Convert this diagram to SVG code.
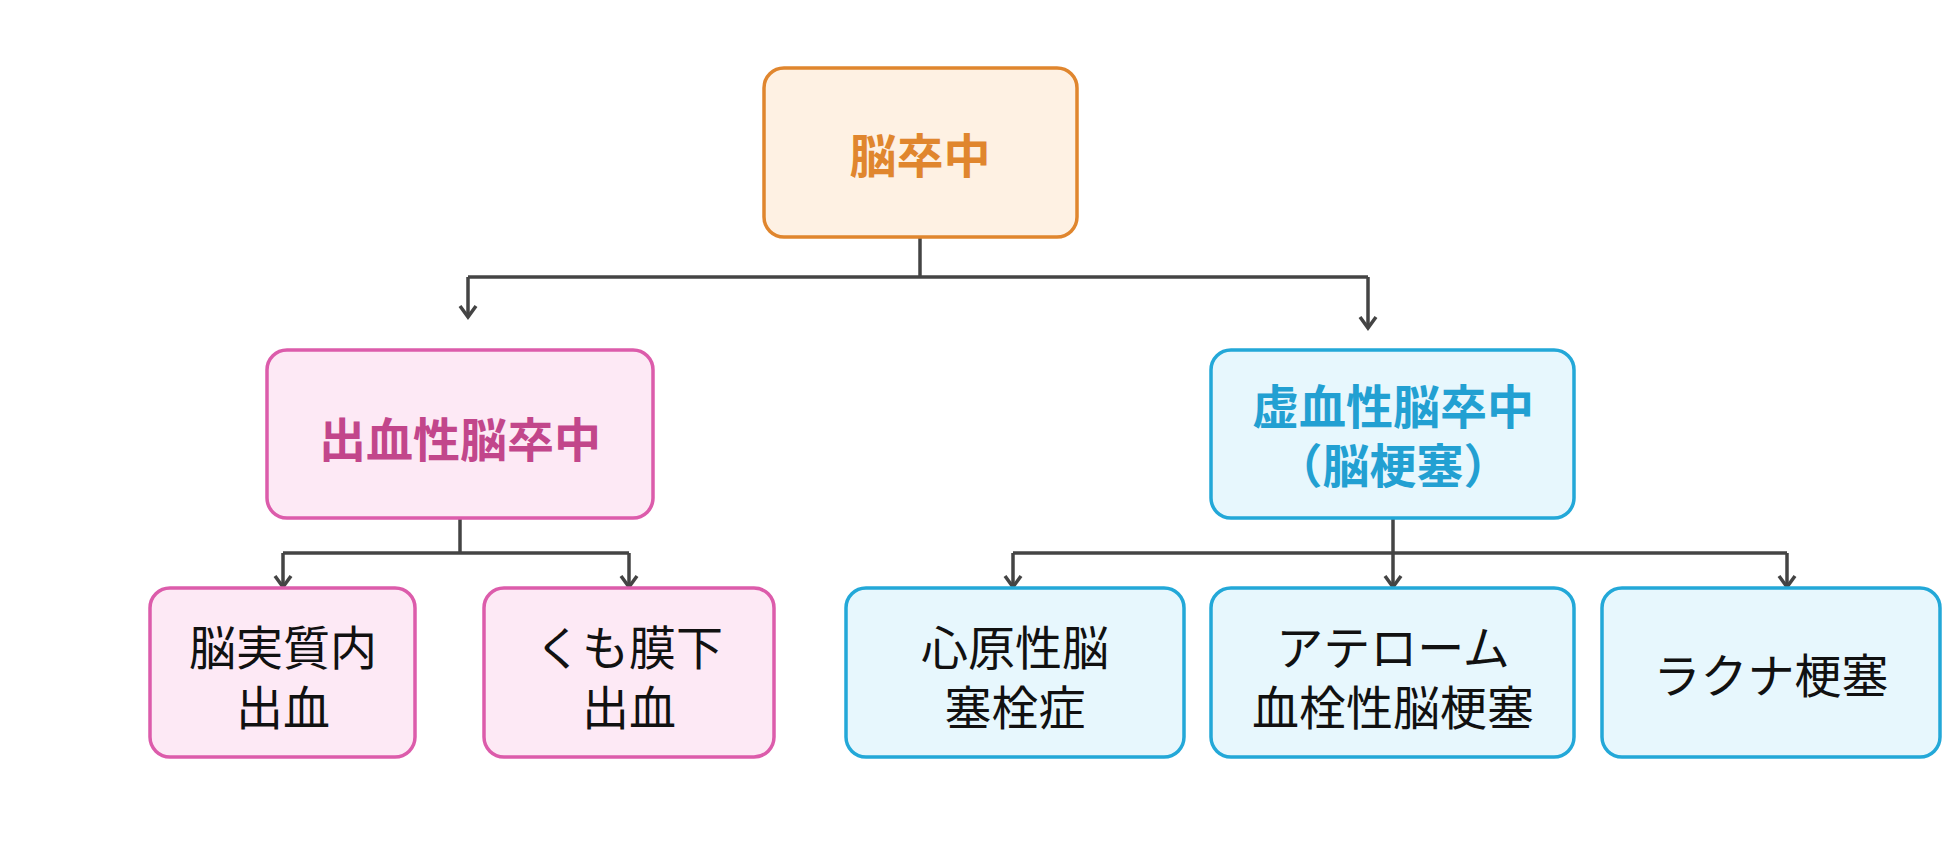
<svg xmlns="http://www.w3.org/2000/svg" width="1956" height="864" viewBox="0 0 1956 864">
<style>
text{font-family:"Noto Sans CJK JP","Noto Sans",sans-serif;text-anchor:middle;dominant-baseline:central}
.o rect{fill:#FEF1E3;stroke:#E0862E;stroke-width:3.5}
.p rect{fill:#FDE9F5;stroke:#DC5CAB;stroke-width:3.5}
.b rect{fill:#E7F7FD;stroke:#23A8D8;stroke-width:3.5}
.t{font-size:47px;font-weight:bold}
.n{font-size:47px;fill:#111}
.c path{fill:none;stroke:#444;stroke-width:3.5}
</style>
<defs><marker id="a" markerWidth="20" markerHeight="20" refX="15" refY="10" orient="auto" markerUnits="userSpaceOnUse" viewBox="0 0 20 20"><path d="M4,2 L15,10 L4,18" fill="none" stroke="#444" stroke-width="3.5"/></marker></defs>
<g class="c">
<path d="M920,237V277"/><path d="M468,277H1368"/>
<path d="M468,277V317" marker-end="url(#a)"/><path d="M1368,277V328" marker-end="url(#a)"/>
<path d="M460,518V553"/><path d="M283,553H629"/>
<path d="M283,553V587" marker-end="url(#a)"/><path d="M629,553V587" marker-end="url(#a)"/>
<path d="M1393,518V587" marker-end="url(#a)"/><path d="M1013,553H1787"/>
<path d="M1013,553V587" marker-end="url(#a)"/><path d="M1787,553V587" marker-end="url(#a)"/>
</g>
<g id="n0" class="o"><rect x="764" y="68" width="313" height="169" rx="20"/><text class="t" x="920" y="152" fill="#E0862E">脳卒中</text></g>
<g id="n1" class="p"><rect x="267" y="350" width="386" height="168" rx="20"/><text class="t" x="460" y="436" fill="#C2468B">出血性脳卒中</text></g>
<g id="n2" class="b"><rect x="1211" y="350" width="363" height="168" rx="20"/><text class="t" x="1393" y="403" fill="#22A0D2">虚血性脳卒中</text><text class="t" x="1393" y="462" fill="#22A0D2">（脳梗塞）</text></g>
<g id="n3" class="p"><rect x="150" y="588" width="265" height="169" rx="20"/><text class="n" x="283" y="644">脳実質内</text><text class="n" x="283" y="704">出血</text></g>
<g id="n4" class="p"><rect x="484" y="588" width="290" height="169" rx="20"/><text class="n" x="629" y="644">くも膜下</text><text class="n" x="629" y="704">出血</text></g>
<g id="n5" class="b"><rect x="846" y="588" width="338" height="169" rx="20"/><text class="n" x="1015" y="644">心原性脳</text><text class="n" x="1015" y="704">塞栓症</text></g>
<g id="n6" class="b"><rect x="1211" y="588" width="363" height="169" rx="20"/><text class="n" x="1393" y="644">アテローム</text><text class="n" x="1393" y="704">血栓性脳梗塞</text></g>
<g id="n7" class="b"><rect x="1602" y="588" width="338" height="169" rx="20"/><text class="n" x="1771" y="672">ラクナ梗塞</text></g>
</svg>
